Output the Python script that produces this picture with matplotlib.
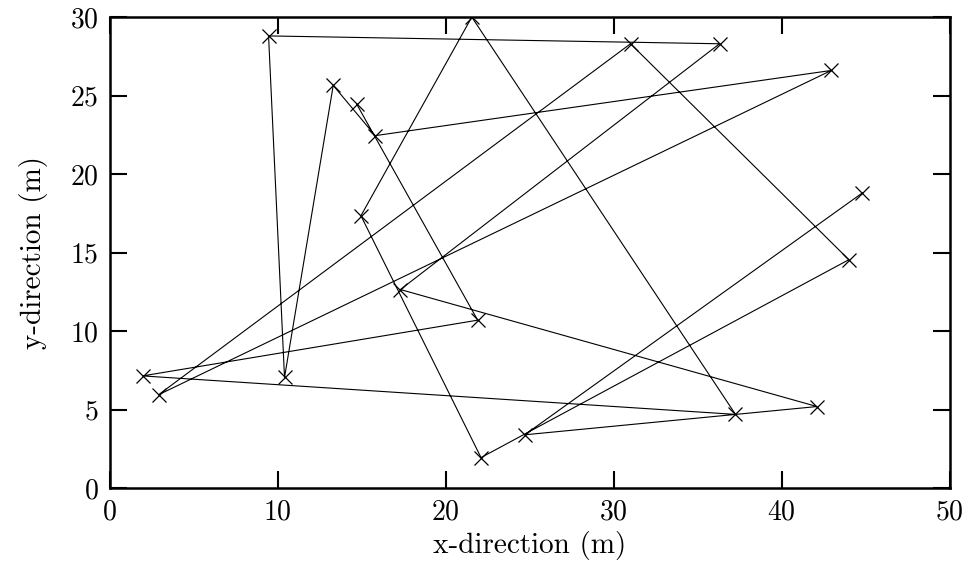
import matplotlib
matplotlib.use("Agg")
import matplotlib.pyplot as plt

# path of the walk, in visiting order
x = [14.7, 21.9, 1.95, 37.25, 21.55, 14.95, 22.1, 44.0, 31.0, 2.9,
     42.95, 15.8, 13.3, 10.4, 9.45, 36.3, 17.3, 42.1, 24.7, 44.8]
y = [24.45, 10.7, 7.15, 4.7, 30.0, 17.35, 1.95, 14.55, 28.3, 5.95,
     26.6, 22.45, 25.65, 7.05, 28.8, 28.3, 12.65, 5.2, 3.4, 18.8]

plt.rcParams['font.family'] = 'serif'
plt.rcParams['font.serif'] = ['cmr10']
plt.rcParams['mathtext.fontset'] = 'cm'
plt.rcParams['axes.formatter.use_mathtext'] = True

fig = plt.figure(figsize=(9.72, 5.69), dpi=100)
ax = fig.add_axes([0.113, 0.142, 0.864, 0.828])
ax.plot(x, y, color='black', linewidth=0.8, marker='x', markersize=10,
        markeredgewidth=0.9)

ax.set_xlim(0, 50)
ax.set_ylim(0, 30)
ax.set_xticks([0, 10, 20, 30, 40, 50])
ax.set_yticks([0, 5, 10, 15, 20, 25, 30])
ax.tick_params(direction='in', length=12, width=1.5, top=True, right=True,
               labelsize=20, pad=8)
for s in ax.spines.values():
    s.set_linewidth(1.8)
ax.set_xlabel("x-direction (m)", fontsize=21, labelpad=4)
ax.set_ylabel("y-direction (m)", fontsize=21, labelpad=16)

fig.savefig("out.png", dpi=100)
